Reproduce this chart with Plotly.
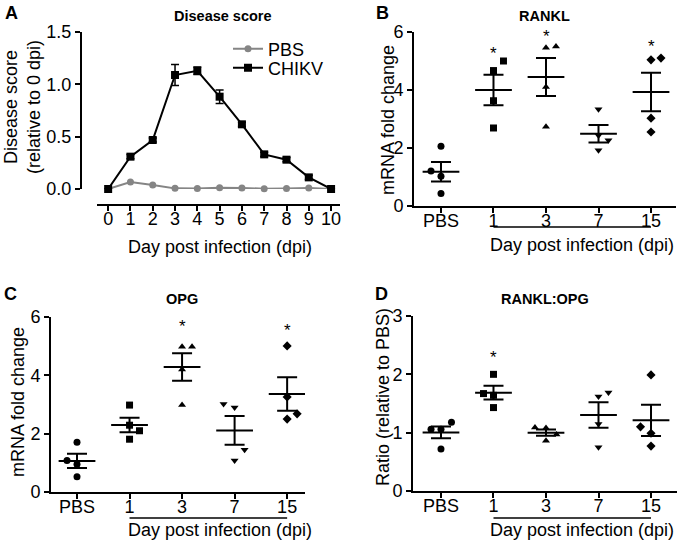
import numpy as np
import plotly.graph_objects as go

W, H = 680, 543
FONT = "Liberation Sans, Arial, sans-serif"

# ---------------- Data ----------------
# Panel A: disease score time course
days = [0, 1, 2, 3, 4, 5, 6, 7, 8, 9, 10]
pbs_score = [0.0, 0.067, 0.038, 0.006, 0.005, 0.013, 0.01, 0.003, 0.005, 0.01, 0.0]
chikv_score = [0.0, 0.309, 0.468, 1.089, 1.13, 0.882, 0.618, 0.331, 0.28, 0.111, 0.0]
chikv_sem = [0.0, 0.02, 0.02, 0.10, 0.035, 0.065, 0.02, 0.02, 0.02, 0.02, 0.0]

# Scatter panels
groups = ["PBS", "1", "3", "7", "15"]

rankl_pbs = [2.06, 1.21, 1.03, 0.43]
rankl_d1 = [5.0, 4.67, 3.63, 2.69]
rankl_d3 = [5.46, 5.5, 4.1, 2.73]
rankl_d7 = [3.34, 2.43, 2.27, 1.92]
rankl_d15 = [5.04, 5.1, 3.03, 2.55]

opg_pbs = [1.71, 1.08, 0.95, 0.52]
opg_d1 = [2.98, 2.29, 2.1, 1.81]
opg_d3 = [4.98, 4.98, 4.2, 2.98]
opg_d7 = [3.02, 2.9, 1.45, 1.08]
opg_d15 = [5.01, 3.26, 2.68, 2.5]

ratio_pbs = [1.18, 1.06, 1.06, 0.72]
ratio_d1 = [2.0, 1.67, 1.64, 1.43]
ratio_d3 = [1.09, 1.08, 0.97, 0.86]
ratio_d7 = [1.62, 1.69, 1.15, 0.75]
ratio_d15 = [1.99, 1.10, 0.99, 0.77]

# horizontal jitter of the dots (category units)
rankl_jit = [[0, -0.19, 0, 0], [0.19, 0, 0, 0], [0, 0.19, 0, 0], [0, 0, 0.19, 0], [0, 0.19, 0, 0]]
opg_jit = [[0, -0.19, 0, 0], [0, 0, 0.19, 0], [0, 0.19, 0, 0], [-0.21, 0, 0.19, 0], [0, 0, 0.19, 0]]
ratio_jit = [[0.2, -0.19, 0, 0], [0, -0.19, 0, 0], [-0.21, 0, 0.2, 0], [0, 0.19, 0, 0], [0, -0.2, 0, 0]]

# significance stars: (group index, y)
rankl_stars = [(1, 5.38), (2, 5.99), (4, 5.63)]
opg_stars = [(2, 5.8), (4, 5.66)]
ratio_stars = [(1, 2.35)]

symbols = ["circle", "square", "triangle-up", "triangle-down", "diamond"]
sizes = [7, 7, 7, 7, 7]

# ---------------- Figure ----------------
fig = go.Figure()


def px_x(p):
    return p / W


def px_y(p):
    return 1 - p / H


# Panel A traces
fig.add_trace(go.Scatter(
    x=days, y=pbs_score, name="PBS", mode="lines+markers",
    line=dict(color="#858585", width=2),
    marker=dict(symbol="circle", size=7, color="#858585"),
    xaxis="x", yaxis="y", cliponaxis=False, legend="legend"))
fig.add_trace(go.Scatter(
    x=days, y=chikv_score, name="CHIKV", mode="lines+markers",
    line=dict(color="black", width=2),
    marker=dict(symbol="square", size=8, color="black"),
    error_y=dict(type="data", array=chikv_sem, visible=True, color="black", thickness=1.5, width=4),
    xaxis="x", yaxis="y", cliponaxis=False, legend="legend2"))


def add_scatter_panel(data, jit, stars, ax):
    xa = "x" + ax
    ya = "y" + ax
    for i, vals in enumerate(data):
        xs = [i + j for j in jit[i]]
        fig.add_trace(go.Scatter(
            x=xs, y=vals, mode="markers", showlegend=False,
            marker=dict(symbol=symbols[i], size=sizes[i], color="black"),
            xaxis=xa, yaxis=ya, cliponaxis=False))
        arr = np.array(vals)
        m = arr.mean()
        sem = arr.std(ddof=1) / np.sqrt(len(arr))
        fig.add_trace(go.Scatter(
            x=[i - 0.35, i + 0.35], y=[m, m], mode="lines", showlegend=False,
            line=dict(color="black", width=2), xaxis=xa, yaxis=ya))
        fig.add_trace(go.Scatter(
            x=[i], y=[m], mode="markers", showlegend=False,
            marker=dict(size=1, color="rgba(0,0,0,0)"),
            error_y=dict(type="data", array=[sem], visible=True, color="black", thickness=2, width=10),
            xaxis=xa, yaxis=ya))
    for gi, sy in stars:
        fig.add_annotation(x=gi, y=sy, xref=xa, yref=ya, text="*", showarrow=False,
                           font=dict(family=FONT, size=17, color="black"), yshift=-4)


add_scatter_panel([rankl_pbs, rankl_d1, rankl_d3, rankl_d7, rankl_d15], rankl_jit, rankl_stars, "2")
add_scatter_panel([opg_pbs, opg_d1, opg_d3, opg_d7, opg_d15], opg_jit, opg_stars, "3")
add_scatter_panel([ratio_pbs, ratio_d1, ratio_d3, ratio_d7, ratio_d15], ratio_jit, ratio_stars, "4")

axis_common = dict(showline=True, linewidth=2, linecolor="black", ticks="outside",
                   ticklen=5, tickwidth=2, tickcolor="black", showgrid=False, zeroline=False,
                   automargin=False,
                   tickfont=dict(family=FONT, size=18, color="black"), fixedrange=True)
xaxis_common = dict(ticklabelstandoff=-8, **axis_common)

leg_common = dict(xanchor="left", yanchor="middle", bgcolor="rgba(0,0,0,0)",
                  font=dict(family=FONT, size=18, color="black"))

layout = dict(
    template="none",
    width=W, height=H, margin=dict(l=0, r=0, t=0, b=0, pad=0, autoexpand=False),
    paper_bgcolor="white", plot_bgcolor="white",
    font=dict(family=FONT, color="black"),
    showlegend=True,
    legend=dict(x=px_x(228), y=px_y(49), **leg_common),
    legend2=dict(x=px_x(228), y=px_y(68), **leg_common),
    xaxis=dict(domain=[px_x(97), px_x(340)], range=[-0.5, 10.4], anchor="free",
               position=px_y(205), tickvals=days, **xaxis_common),
    yaxis=dict(domain=[px_y(189), px_y(32)], range=[0, 1.5], anchor="free",
               position=px_x(81), tickvals=[0, 0.5, 1.0, 1.5], tickformat=".1f", **axis_common),
    xaxis2=dict(domain=[px_x(414), px_x(676)], range=[-0.514, 4.476], anchor="y2",
                tickvals=list(range(5)), ticktext=groups, **xaxis_common),
    yaxis2=dict(domain=[px_y(206), px_y(32)], range=[0, 6], anchor="x2",
                tickvals=[0, 2, 4, 6], **axis_common),
    xaxis3=dict(domain=[px_x(51), px_x(305)], range=[-0.495, 4.34], anchor="y3",
                tickvals=list(range(5)), ticktext=groups, **xaxis_common),
    yaxis3=dict(domain=[px_y(492), px_y(317)], range=[0, 6], anchor="x3",
                tickvals=[0, 2, 4, 6], **axis_common),
    xaxis4=dict(domain=[px_x(413), px_x(677)], range=[-0.533, 4.495], anchor="y4",
                tickvals=list(range(5)), ticktext=groups, **xaxis_common),
    yaxis4=dict(domain=[px_y(491), px_y(316)], range=[0, 3], anchor="x4",
                tickvals=[0, 1, 2, 3], **axis_common),
)
fig.update_layout(**layout)

# underline for "Day post infection"
for xr, yy in [("x2", 227), ("x3", 518), ("x4", 518)]:
    fig.add_shape(type="line", xref=xr, yref="paper", x0=1, x1=4, y0=px_y(yy), y1=px_y(yy),
                  line=dict(color="black", width=1.5))


def ann(text, x, y, size, bold=False, angle=0, xanchor="center"):
    fig.add_annotation(x=px_x(x), y=px_y(y), xref="paper", yref="paper",
                       text=("<b>%s</b>" % text) if bold else text, showarrow=False,
                       textangle=angle, xanchor=xanchor, yanchor="middle",
                       font=dict(family=FONT, size=size, color="black"))


# panel letters
ann("A", 11, 13, 18, bold=True)
ann("B", 382, 13, 18, bold=True)
ann("C", 10, 294, 18, bold=True)
ann("D", 381, 294, 18, bold=True)

# titles
ann("Disease score", 223, 16, 14.5, bold=True)
ann("RANKL", 544, 16, 14.5, bold=True)
ann("OPG", 182, 299, 14.5, bold=True)
ann("RANKL:OPG", 545, 299, 14.5, bold=True)

# x titles
ann("Day post infection (dpi)", 220, 247, 18)
ann("Day post infection (dpi)", 676, 245, 18, xanchor="right")
ann("Day post infection (dpi)", 220, 530, 18)
ann("Day post infection (dpi)", 676, 530, 18, xanchor="right")

# y titles
ann("Disease score<br>(relative to 0 dpi)", 22, 107, 18, angle=-90)
ann("mRNA fold change", 388, 120, 18, angle=-90)
ann("mRNA fold change", 18, 402, 18, angle=-90)
ann("Ratio (relative to PBS)", 383, 397, 18, angle=-90)

fig.write_html("out.html", config={"displayModeBar": False},
               post_script="document.body.style.margin='0';document.body.style.overflow='hidden';")
